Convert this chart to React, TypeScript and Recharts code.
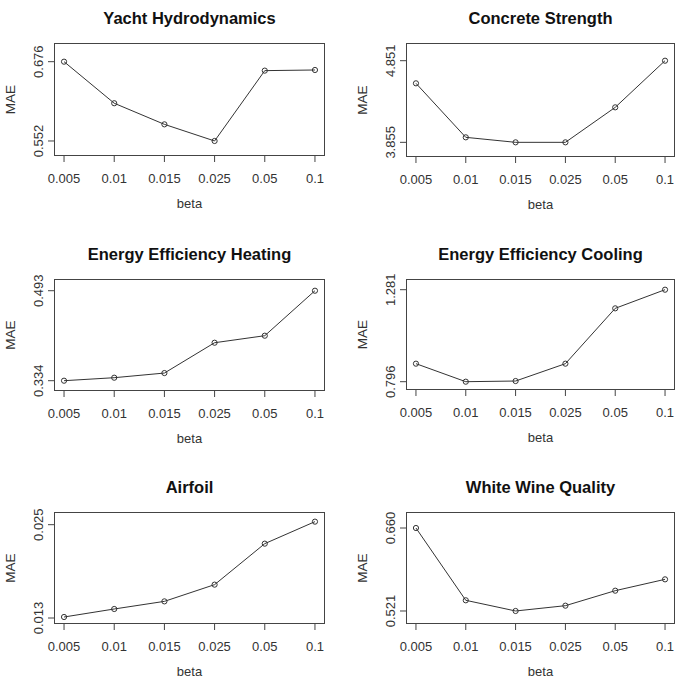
import { Line, LineChart, XAxis, YAxis } from "recharts";

const betaLabels = ["0.005", "0.01", "0.015", "0.025", "0.05", "0.1"];
const betaIndex = [0, 1, 2, 3, 4, 5];

const yachtMae = [0.676, 0.611, 0.578, 0.552, 0.662, 0.663];
const concreteMae = [4.575, 3.916, 3.855, 3.855, 4.282, 4.851];
const heatingMae = [0.334, 0.3393, 0.3475, 0.4011, 0.4135, 0.493];
const coolingMae = [0.891, 0.796, 0.7995, 0.891, 1.1827, 1.281];
const airfoilMae = [0.01313, 0.01416, 0.01514, 0.01729, 0.02256, 0.02539];
const wineMae = [0.66, 0.5389, 0.521, 0.5299, 0.555, 0.574];

const yachtTicks = [0.552, 0.676];
const concreteTicks = [3.855, 4.851];
const heatingTicks = [0.334, 0.493];
const coolingTicks = [0.796, 1.281];
const airfoilTicks = [0.013, 0.025];
const wineTicks = [0.521, 0.66];

const FONT = "'Liberation Sans', Arial, Helvetica, sans-serif";
const INK = "#333";

type PanelProps = {
  title: string;
  values: number[];
  ticks: number[];
  domain: [number, number];
  ox: number;
  oy: number;
  box: [number, number, number, number];
};

function Panel({ title, values, ticks, domain, ox, oy, box }: PanelProps) {
  const W = ox === 0 ? 340 : 341;
  const H = 229;
  const left = box[0] - ox;
  const top = box[1] - oy;
  const right = ox + W - box[2];
  const bottom = box[3] - oy;
  const xh = H - bottom;
  const cx = (left + W - right) / 2;
  const cy = (top + bottom) / 2;
  const data = betaIndex.map((i) => ({ i, mae: values[i] }));

  return (
    <div style={{ position: "absolute", left: ox, top: oy, width: W, height: H }}>
      <LineChart width={W} height={H} data={data} margin={{ top, right, bottom: 0, left: 0 }}>
        <XAxis
          dataKey="i"
          type="number"
          domain={[-0.2, 5.2]}
          ticks={betaIndex}
          interval={0}
          height={xh}
          axisLine={false}
          tickSize={6}
          tickMargin={0}
          tickLine={{ stroke: "#444" }}
          allowDataOverflow
          tick={(p: any) => (
            <text x={p.x} y={p.y + 20.5} textAnchor="middle" fontSize={13} fill={INK} fontFamily={FONT}>
              {betaLabels[p.payload.value]}
            </text>
          )}
        />
        <YAxis
          type="number"
          domain={domain}
          ticks={ticks}
          interval={0}
          width={left}
          axisLine={false}
          tickSize={6}
          tickMargin={0}
          tickLine={{ stroke: "#444" }}
          allowDataOverflow
          tick={(p: any) => (
            <text
              x={p.x - 5}
              y={p.y}
              transform={`rotate(-90, ${p.x - 5}, ${p.y})`}
              textAnchor="middle"
              fontSize={13}
              fill={INK}
              fontFamily={FONT}
            >
              {Number(p.payload.value).toFixed(3)}
            </text>
          )}
        />
        <Line
          dataKey="mae"
          stroke={INK}
          strokeWidth={1}
          dot={{ r: 2.6, stroke: INK, fill: "none", strokeWidth: 1 }}
          isAnimationActive={false}
        />
      </LineChart>
      <svg
        width={W}
        height={H}
        style={{ position: "absolute", left: 0, top: 0, pointerEvents: "none" }}
      >
        <rect
          x={left + 0.5}
          y={top + 0.5}
          width={W - right - left - 1}
          height={bottom - top - 1}
          fill="none"
          stroke="#444"
          strokeWidth={1}
        />
        <text x={cx} y={top - 19.5} textAnchor="middle" fontSize={16.5} fontWeight="bold" fill="#111" fontFamily={FONT}>
          {title}
        </text>
        <text x={cx} y={bottom + 52} textAnchor="middle" fontSize={13} fill={INK} fontFamily={FONT}>
          beta
        </text>
        <text
          x={left - 39}
          y={cy}
          transform={`rotate(-90, ${left - 39}, ${cy})`}
          textAnchor="middle"
          fontSize={13.5}
          fill={INK}
          fontFamily={FONT}
        >
          MAE
        </text>
      </svg>
    </div>
  );
}

export default function App() {
  return (
    <div style={{ position: "absolute", left: 0, top: 0, width: 681, height: 687, background: "#fff", fontFamily: FONT }}>
      <Panel title="Yacht Hydrodynamics" values={yachtMae} ticks={yachtTicks} domain={[0.5285, 0.7052]} ox={0} oy={0} box={[54, 43, 325, 156]} />
      <Panel title="Concrete Strength" values={concreteMae} ticks={concreteTicks} domain={[3.676, 5.067]} ox={340} oy={0} box={[406, 43, 675, 157]} />
      <Panel title="Energy Efficiency Heating" values={heatingMae} ticks={heatingTicks} domain={[0.3158, 0.5137]} ox={0} oy={229} box={[54, 279, 325, 391]} />
      <Panel title="Energy Efficiency Cooling" values={coolingMae} ticks={coolingTicks} domain={[0.7522, 1.3374]} ox={340} oy={229} box={[406, 279, 675, 390]} />
      <Panel title="Airfoil" values={airfoilMae} ticks={airfoilTicks} domain={[0.01223, 0.02663]} ox={0} oy={458} box={[54, 512, 325, 624]} />
      <Panel title="White Wine Quality" values={wineMae} ticks={wineTicks} domain={[0.4992, 0.6868]} ox={340} oy={458} box={[406, 512, 675, 624]} />
    </div>
  );
}
